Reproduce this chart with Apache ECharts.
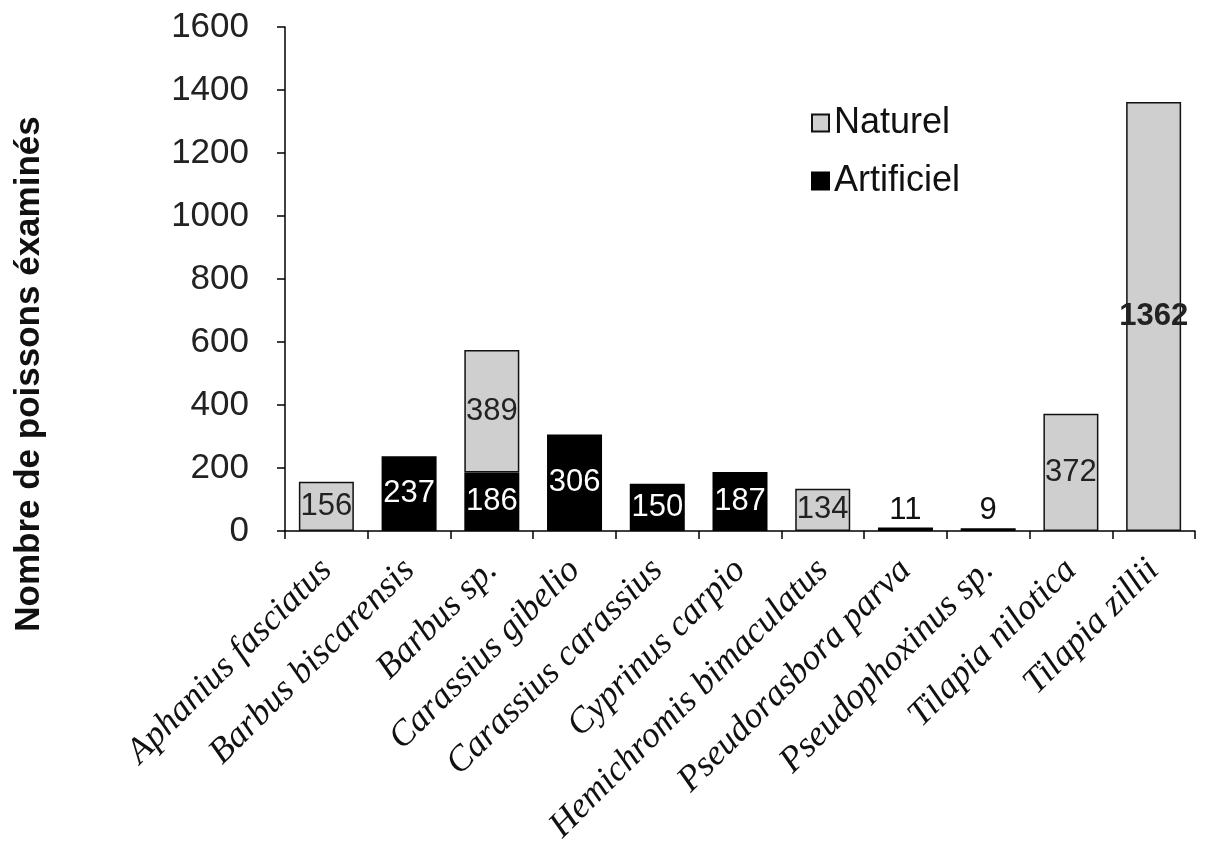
<!DOCTYPE html>
<html>
<head>
<meta charset="utf-8">
<script src="https://cdn.jsdelivr.net/npm/echarts@6/dist/echarts.min.js"></script>
<style>
  html, body { margin: 0; padding: 0; background: #fff; }
  #chart { width: 1209px; height: 845px; }
</style>
</head>
<body>
<div id="chart"></div>
<script>
const species = [
  "Aphanius fasciatus", "Barbus biscarensis", "Barbus sp.", "Carassius gibelio",
  "Carassius carassius", "Cyprinus carpio", "Hemichromis bimaculatus",
  "Pseudorasbora parva", "Pseudophoxinus sp.", "Tilapia nilotica", "Tilapia zillii"
];
const artificiel = [null, 237, 186, 306, 150, 187, null, 11, 9, null, null];
const naturel = [156, null, 389, null, null, null, 134, null, null, 372, 1362];
const yTicks = { min: 0, max: 1600, interval: 200 };

const sans = "Liberation Sans";
const serif = "Liberation Serif";

// tiny bars get their number above them, the rest in the middle
function toItems(values) {
  return values.map(v => {
    if (v == null) return null;
    let item = { value: v };
    if (v < 50) {
      item.label = { position: 'top', color: '#111', distance: 2 };
    }
    if (v > 1000) {
      item.label = { fontWeight: 'bold' };
    }
    return item;
  });
}

let chart = echarts.init(document.getElementById('chart'));
chart.setOption({
  backgroundColor: '#fff',
  animation: false,
  grid: {
    left: 285, right: 14, top: 27, bottom: 314,
    containLabel: false,
    outerBoundsMode: 'none'
  },
  legend: {
    data: ['Naturel', 'Artificiel'],
    orient: 'vertical',
    left: 806,
    top: 100,
    itemWidth: 17,
    itemHeight: 17,
    itemGap: 22,
    icon: 'rect',
    textStyle: { fontFamily: sans, fontSize: 36, color: '#111' }
  },
  xAxis: {
    type: 'category',
    data: species,
    axisLine: { lineStyle: { color: '#000', width: 1.5 } },
    axisTick: { show: true, length: 8, lineStyle: { color: '#000', width: 1.5 } },
    axisLabel: {
      rotate: 45,
      interval: 0,
      margin: 34,
      fontFamily: serif,
      fontStyle: 'italic',
      fontSize: 36,
      color: '#111'
    }
  },
  yAxis: {
    type: 'value',
    min: yTicks.min,
    max: yTicks.max,
    interval: yTicks.interval,
    name: 'Nombre de poissons éxaminés',
    nameLocation: 'middle',
    nameGap: 238,
    nameTextStyle: {
      fontFamily: sans, fontSize: 35, fontWeight: 'bold', color: '#111',
      padding: [0, 190, 0, 0]
    },
    splitLine: { show: false },
    axisLine: { show: true, lineStyle: { color: '#000', width: 1.5 } },
    axisTick: { show: true, length: 8, lineStyle: { color: '#000', width: 1.5 } },
    axisLabel: {
      margin: 36, fontFamily: sans, fontSize: 35, color: '#222',
      formatter: v => String(v)
    }
  },
  series: [
    {
      name: 'Artificiel',
      type: 'bar',
      stack: 'total',
      barWidth: 55,
      data: toItems(artificiel),
      itemStyle: { color: '#000', borderColor: '#000', borderWidth: 1.5 },
      label: {
        show: true,
        position: 'inside',
        fontFamily: sans,
        fontSize: 31,
        color: '#fff'
      }
    },
    {
      name: 'Naturel',
      type: 'bar',
      stack: 'total',
      barWidth: 55,
      data: toItems(naturel),
      itemStyle: { color: '#cfcfcf', borderColor: '#111', borderWidth: 1.5 },
      label: {
        show: true,
        position: 'inside',
        fontFamily: sans,
        fontSize: 31,
        color: '#222'
      }
    }
  ]
});
</script>
</body>
</html>
